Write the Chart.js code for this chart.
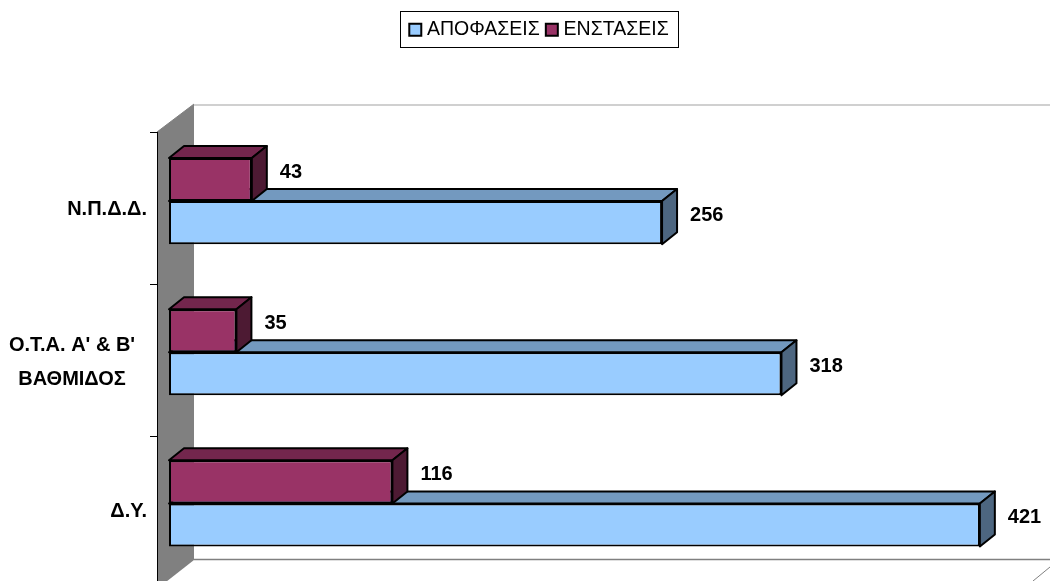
<!DOCTYPE html>
<html>
<head>
<meta charset="utf-8">
<script src="https://cdn.jsdelivr.net/npm/chart.js@4"></script>
<style>
  html, body { margin: 0; padding: 0; background: #fff; overflow: hidden; }
  canvas { display: block; }
</style>
</head>
<body>
<canvas id="grafima" width="1050" height="581"></canvas>
<script>
const categories = ['Ν.Π.Δ.Δ.', ["Ο.Τ.Α. Α' & Β'", 'ΒΑΘΜΙΔΟΣ'], 'Δ.Υ.'];
const apofaseis = [256, 318, 421];
const enstaseis = [43, 35, 116];

const FONT = '"Liberation Sans", Arial, sans-serif';
const DX = 15, DY = -12; // bar depth

const faces = [
  { top: '#7399BF', side: '#4D6680' },
  { top: '#73264D', side: '#4D1A33' }
];

function poly(ctx, pts, fill, stroke, lw) {
  ctx.beginPath();
  pts.forEach((p, i) => i ? ctx.lineTo(p[0], p[1]) : ctx.moveTo(p[0], p[1]));
  ctx.closePath();
  ctx.fillStyle = fill;
  ctx.fill();
  if (stroke) {
    ctx.strokeStyle = stroke;
    ctx.lineWidth = lw;
    ctx.lineJoin = 'round';
    ctx.stroke();
  }
}

const threeD = {
  id: 'threeD',
  afterLayout(chart) {
    // legend sits up top, away from the plot
    const l = chart.legend;
    l.left = 307; l.right = 775; l.width = 468;
    l.top = 10; l.bottom = 50; l.height = 40;
  },
  beforeDatasetsDraw(chart) {
    const ctx = chart.ctx;
    ctx.save();
    // side wall
    poly(ctx, [[157, 132], [194, 104], [194, 560], [157, 589]], '#808080');
    ctx.strokeStyle = '#C0C0C0';
    ctx.lineWidth = 1.5;
    ctx.beginPath(); ctx.moveTo(194, 105); ctx.lineTo(1050, 105); ctx.stroke();
    ctx.strokeStyle = '#808080';
    ctx.beginPath(); ctx.moveTo(194, 559.5); ctx.lineTo(1050, 559.5); ctx.stroke();
    ctx.lineWidth = 1;
    ctx.beginPath(); ctx.moveTo(1033, 581); ctx.lineTo(1050, 567); ctx.stroke();
    ctx.beginPath(); ctx.moveTo(157, 132); ctx.lineTo(194, 104); ctx.stroke();
    // axis line and ticks
    ctx.strokeStyle = '#000';
    ctx.beginPath();
    ctx.moveTo(157.5, 132); ctx.lineTo(157.5, 581);
    [132.5, 284.5, 436.5].forEach(y => { ctx.moveTo(150, y); ctx.lineTo(157, y); });
    ctx.stroke();
    ctx.restore();
  },
  beforeDatasetDraw(chart, args) {
    const ctx = chart.ctx;
    const c = faces[args.index];
    ctx.save();
    args.meta.data.forEach(bar => {
      const p = bar.getProps(['x', 'y', 'base', 'height'], true);
      const t = p.y - p.height / 2, b = p.y + p.height / 2;
      poly(ctx, [[p.base, t], [p.base + DX, t + DY], [p.x + DX, t + DY], [p.x, t]], c.top, '#000', 2);
      poly(ctx, [[p.x, t], [p.x + DX, t + DY], [p.x + DX, b + DY], [p.x, b]], c.side, '#000', 2);
    });
    ctx.restore();
  },
  afterDraw(chart) {
    const ctx = chart.ctx;
    ctx.save();
    ctx.strokeStyle = '#000';
    ctx.lineWidth = 1;
    ctx.strokeRect(400.5, 11.5, 278, 36);

    // value labels
    ctx.fillStyle = '#000';
    ctx.font = 'bold 20px ' + FONT;
    ctx.textAlign = 'left';
    ctx.textBaseline = 'middle';
    chart.data.datasets.forEach((ds, i) => {
      chart.getDatasetMeta(i).data.forEach((bar, j) => {
        ctx.fillText(ds.data[j], bar.x + 28, bar.y - 7);
      });
    });

    // category labels
    const y = chart.scales.y;
    categories.forEach((lab, i) => {
      const cy = y.getPixelForValue(i) + 8;
      if (Array.isArray(lab)) {
        ctx.textAlign = 'center';
        ctx.fillText(lab[0], 72, cy - 15);
        ctx.fillText(lab[1], 72, cy + 19);
      } else {
        ctx.textAlign = 'right';
        ctx.fillText(lab, 147, cy);
      }
    });
    ctx.restore();
  }
};

new Chart(document.getElementById('grafima'), {
  type: 'bar',
  data: {
    labels: categories,
    datasets: [
      { label: 'ΑΠΟΦΑΣΕΙΣ', data: apofaseis, order: 2, backgroundColor: '#99CCFF', borderColor: '#000', borderWidth: 2, borderSkipped: false },
      { label: 'ΕΝΣΤΑΣΕΙΣ', data: enstaseis, order: 1, backgroundColor: '#993366', borderColor: '#000', borderWidth: 2, borderSkipped: false }
    ]
  },
  options: {
    indexAxis: 'y',
    responsive: false,
    animation: false,
    layout: { padding: { left: 169, right: 14.3, top: 86, bottom: 2 } },
    datasets: { bar: { barPercentage: 1, categoryPercentage: 0.57 } },
    scales: {
      x: { display: false, min: 0, max: 450 },
      y: { display: false }
    },
    plugins: {
      legend: {
        position: 'top',
        labels: {
          usePointStyle: true, pointStyle: 'rect',
          boxWidth: 4, boxHeight: 12, padding: 10, color: '#000',
          font: { family: FONT, size: 19.5 },
          sort: (a, b) => a.datasetIndex - b.datasetIndex
        }
      },
      tooltip: { enabled: false }
    }
  },
  plugins: [threeD]
});
</script>
</body>
</html>
